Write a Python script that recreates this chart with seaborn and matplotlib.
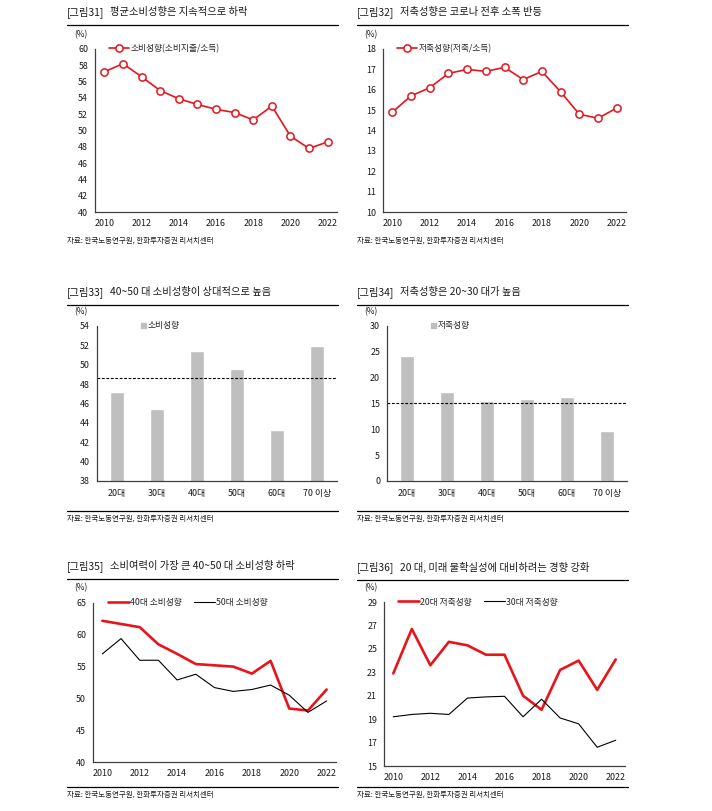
import matplotlib
matplotlib.use('Agg')
import matplotlib.pyplot as plt
import matplotlib.patches as mpatches
from matplotlib.lines import Line2D
import seaborn as sns

# data
years = list(range(2010, 2023))
cons_rate = [57.2, 58.2, 56.6, 54.9, 53.9, 53.2, 52.6, 52.2, 51.3, 53.0, 49.3, 47.8, 48.6]
save_rate = [14.9, 15.7, 16.1, 16.8, 17.0, 16.9, 17.1, 16.5, 16.9, 15.9, 14.8, 14.6, 15.1]

age_groups = ['20대', '30대', '40대', '50대', '60대', '70 이상']
cons_by_age = [47.2, 45.4, 51.4, 49.6, 43.3, 51.9]
save_by_age = [24.2, 17.3, 15.4, 15.9, 16.2, 9.6]
cons_avg = 48.6
save_avg = 15.1

cons_40s = [62.2, 61.7, 61.2, 58.5, 57.0, 55.4, 55.2, 55.0, 53.9, 55.9, 48.4, 48.1, 51.4]
cons_50s = [57.0, 59.4, 56.0, 56.0, 52.9, 53.8, 51.7, 51.1, 51.4, 52.1, 50.5, 47.8, 49.6]
save_20s = [22.9, 26.7, 23.6, 25.6, 25.3, 24.5, 24.5, 21.0, 19.8, 23.2, 24.0, 21.5, 24.1]
save_30s = [19.2, 19.4, 19.5, 19.4, 20.8, 20.9, 20.95, 19.2, 20.7, 19.1, 18.6, 16.6, 17.2]

titles = [
    ('[그림31]', '평균소비성향은 지속적으로 하락'),
    ('[그림32]', '저축성향은 코로나 전후 소폭 반등'),
    ('[그림33]', '40~50 대 소비성향이 상대적으로 높음'),
    ('[그림34]', '저축성향은 20~30 대가 높음'),
    ('[그림35]', '소비여력이 가장 큰 40~50 대 소비성향 하락'),
    ('[그림36]', '20 대, 미래 불확실성에 대비하려는 경향 강화'),
]
source = '자료: 한국노동연구원, 한화투자증권 리서치센터'

sns.set_style('white')
plt.rcParams['font.family'] = ['Noto Sans CJK KR', 'DejaVu Sans']
plt.rcParams['axes.unicode_minus'] = False

RED = '#e8141c'
GRAY = '#bfbfbf'
TXT = '#1a1a1a'
W, H = 712, 811

fig = plt.figure(figsize=(W / 100, H / 100), dpi=100)


def fx(x):
    return x / W


def fy(y):
    return 1 - y / H


def box(l, t, r, b):
    return [fx(l), fy(b), fx(r) - fx(l), fy(t) - fy(b)]


def hline(x0, x1, y):
    fig.add_artist(Line2D([fx(x0), fx(x1)], [fy(y), fy(y)], color='black',
                          lw=0.9, transform=fig.transFigure))


def frame(ax, ticks, lim):
    ax.set_ylim(*lim)
    ax.set_yticks(ticks)
    for s in ['top', 'right']:
        ax.spines[s].set_visible(False)
    for s in ['left', 'bottom']:
        ax.spines[s].set_color('#404040')
        ax.spines[s].set_linewidth(0.9)
    ax.tick_params(axis='y', direction='out', length=3, width=0.8,
                   color='#404040', labelsize=6.4, labelcolor=TXT, pad=2)
    ax.set_xlabel('')
    ax.set_ylabel('')


def year_axis(ax):
    ax.set_xlim(2009.5, 2022.5)
    ax.set_xticks(years[::2])
    ax.set_xticks([y - 0.5 for y in years[::2]], minor=True)
    ax.tick_params(axis='x', which='major', length=0, labelsize=6.4,
                   labelcolor=TXT, pad=5)
    ax.tick_params(axis='x', which='minor', direction='in', length=3,
                   width=0.8, color='#404040')


def cat_axis(ax):
    ax.set_xlim(-0.5, 5.5)
    ax.set_xticks(range(len(age_groups)))
    ax.set_xticklabels(age_groups)
    ax.set_xticks([i + 0.5 for i in range(len(age_groups) - 1)], minor=True)
    ax.tick_params(axis='x', which='major', length=0, labelsize=6.4,
                   labelcolor=TXT, pad=6)
    ax.tick_params(axis='x', which='minor', direction='out', length=3,
                   width=0.8, color='#404040')


def headers(idx, title_y, pct_y, src_y, bottom_line=None):
    col = idx % 2
    x0 = 67 if col == 0 else 357
    x1 = 338 if col == 0 else 628
    tag, text = titles[idx]
    fig.text(fx(x0), fy(title_y), tag, fontsize=7.4, va='center', ha='left',
             color=TXT)
    fig.text(fx(x0 + 43), fy(title_y), text, fontsize=7.4, va='center',
             ha='left', color=TXT)
    hline(x0, x1, title_y + 13)
    fig.text(fx(x0 + 14), fy(pct_y), '(%)', fontsize=6, va='center',
             ha='center', color=TXT)
    if bottom_line is not None:
        hline(x0, x1, bottom_line)
    fig.text(fx(x0), fy(src_y), source, fontsize=5.4, va='center',
             ha='left', color=TXT)


def put_legend(ax, x, y, **kw):
    opts = dict(loc='center left', bbox_to_anchor=(fx(x), fy(y)),
                bbox_transform=fig.transFigure, frameon=False, fontsize=6.3,
                borderpad=0, borderaxespad=0)
    opts.update(kw)
    ax.legend(**opts)


# ---- panel 1
ax1 = fig.add_axes(box(95, 49, 337, 212))
sns.lineplot(x=years, y=cons_rate, ax=ax1, color=RED, lw=1.2, marker='o',
             markersize=5.2, markerfacecolor='white', markeredgecolor=RED,
             markeredgewidth=1.1, label='소비성향(소비지출/소득)')
frame(ax1, range(40, 61, 2), (40, 60))
year_axis(ax1)
put_legend(ax1, 109, 49, handlelength=2.3, handletextpad=0.2)
headers(0, 12, 35, 241)

# ---- panel 2
ax2 = fig.add_axes(box(383, 49, 626, 212))
sns.lineplot(x=years, y=save_rate, ax=ax2, color=RED, lw=1.2, marker='o',
             markersize=5.2, markerfacecolor='white', markeredgecolor=RED,
             markeredgewidth=1.1, label='저축성향(저축/소득)')
frame(ax2, range(10, 19), (10, 18))
year_axis(ax2)
put_legend(ax2, 397, 49, handlelength=2.3, handletextpad=0.2)
headers(1, 12, 35, 241)

# ---- panel 3
ax3 = fig.add_axes(box(97, 326, 337, 481))
sns.barplot(x=age_groups, y=cons_by_age, ax=ax3, color=GRAY, saturation=1,
            width=0.34)
ax3.axhline(cons_avg, color='black', lw=0.8, ls=(0, (2.5, 1.5)))
frame(ax3, range(38, 55, 2), (38, 54))
cat_axis(ax3)
put_legend(ax3, 141, 326,
           handles=[mpatches.Patch(color=GRAY, label='소비성향')],
           handlelength=0.6, handleheight=0.6, handletextpad=0.15)
headers(2, 292, 312, 519, bottom_line=511)

# ---- panel 4
ax4 = fig.add_axes(box(387, 326, 627, 481))
sns.barplot(x=age_groups, y=save_by_age, ax=ax4, color=GRAY, saturation=1,
            width=0.34)
ax4.axhline(save_avg, color='black', lw=0.8, ls=(0, (2.5, 1.5)))
frame(ax4, range(0, 31, 5), (0, 30))
cat_axis(ax4)
put_legend(ax4, 431, 326,
           handles=[mpatches.Patch(color=GRAY, label='저축성향')],
           handlelength=0.6, handleheight=0.6, handletextpad=0.15)
headers(3, 292, 312, 519, bottom_line=511)

# ---- panel 5
ax5 = fig.add_axes(box(93, 603, 336, 762))
sns.lineplot(x=years, y=cons_40s, ax=ax5, color=RED, lw=1.9, label='40대 소비성향')
sns.lineplot(x=years, y=cons_50s, ax=ax5, color='black', lw=0.8, label='50대 소비성향')
frame(ax5, range(40, 66, 5), (40, 65))
year_axis(ax5)
put_legend(ax5, 108, 603, ncol=2, handlelength=2.4, handletextpad=0.1,
           columnspacing=1.4)
headers(4, 566, 588, 795, bottom_line=787)

# ---- panel 6
ax6 = fig.add_axes(box(384, 602, 625, 766))
sns.lineplot(x=years, y=save_20s, ax=ax6, color=RED, lw=1.9, label='20대 저축성향')
sns.lineplot(x=years, y=save_30s, ax=ax6, color='black', lw=0.8, label='30대 저축성향')
frame(ax6, range(15, 30, 2), (15, 29))
year_axis(ax6)
put_legend(ax6, 398, 602, ncol=2, handlelength=2.4, handletextpad=0.1,
           columnspacing=1.4)
headers(5, 567, 588, 795, bottom_line=787)

fig.savefig('out.png', dpi=100, facecolor='white')
